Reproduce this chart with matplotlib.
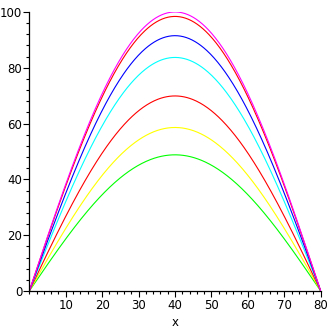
import numpy as np
import matplotlib
matplotlib.use("Agg")
import matplotlib.pyplot as plt
from matplotlib.ticker import MultipleLocator

# peak heights of each curve (all start at x=0, end at x=80, top at x=40)
peaks = [100.0, 98.4, 91.5, 83.7, 69.9, 58.6, 48.8]
colors = ["#ff00ff", "#ff0000", "#0000ff", "#00ffff", "#ff0000", "#ffff00", "#00ff00"]
x_start = 0
x_end = 80
xticks = [10, 20, 30, 40, 50, 60, 70, 80]
yticks = [0, 20, 40, 60, 80, 100]

fig = plt.figure(figsize=(3.32, 3.32), dpi=100)
ax = fig.add_axes([0.0883, 0.1235, 0.8777, 0.8405])

x = np.linspace(x_start, x_end, 400)
for h, c in zip(peaks[::-1], colors[::-1]):
    ax.plot(x, h * np.sin(np.pi * (x - x_start) / (x_end - x_start)), color=c, lw=0.8)

ax.set_xlim(x_start, x_end)
ax.set_ylim(0, 100)
for s in ["top", "right"]:
    ax.spines[s].set_visible(False)
for s in ["left", "bottom"]:
    ax.spines[s].set_linewidth(0.9)

ax.set_xticks(xticks)
ax.set_yticks(yticks)
ax.xaxis.set_minor_locator(MultipleLocator(2))
ax.yaxis.set_minor_locator(MultipleLocator(4))
ax.tick_params(which="major", length=4, width=0.8, labelsize=8.5, pad=1)
ax.tick_params(which="minor", length=2.5, width=0.8)
ax.tick_params(axis="x", which="major", pad=2)
ax.set_xlabel("x", fontsize=8.5, labelpad=3)

plt.savefig("out.png", dpi=100)
